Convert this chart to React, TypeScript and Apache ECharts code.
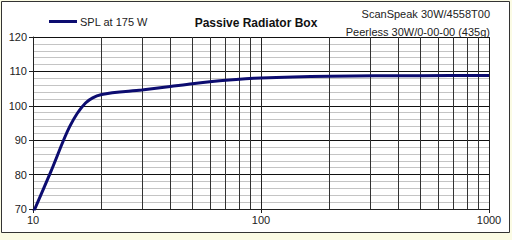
import React, { useEffect, useRef } from "react";
import * as echarts from "echarts";

const freqs = [10, 12, 14.5, 17, 20, 30, 40, 50, 70, 100, 200, 500, 1000];
const spl = [68.8, 81, 94, 100.8, 103.3, 104.6, 105.6, 106.4, 107.4, 108.1, 108.6, 108.75, 108.8];
const gridFreqs = [20, 30, 40, 50, 60, 70, 80, 90, 200, 300, 400, 500, 600, 700, 800, 900];
const seriesName = "SPL at 175 W";
const titleText = "Passive Radiator Box";
const noteLines = ["ScanSpeak 30W/4558T00", "Peerless 30W/0-00-00 (435g)"];

const FONT = "Liberation Sans";

export default function App() {
  const ref = useRef<HTMLDivElement>(null);
  useEffect(() => {
    if (!ref.current) return;
    const chart = echarts.init(ref.current, null, { renderer: "svg" });
    chart.setOption({
      animation: false,
      backgroundColor: "#fbfbe4",
      textStyle: { fontFamily: FONT },
      title: {
        text: titleText,
        left: "center",
        top: 12,
        textStyle: { fontFamily: FONT, fontSize: 12, fontWeight: "bold", color: "#111" },
      },
      legend: {
        left: 44,
        top: 11,
        itemWidth: 28,
        itemHeight: 3,
        itemGap: 4,
        icon: "rect",
        textStyle: { fontFamily: FONT, fontSize: 11, color: "#222", padding: [0, 0, 0, -2] },
        data: [seriesName],
      },
      graphic: [
        {
          type: "rect",
          z: -10,
          silent: true,
          shape: { x: 1.5, y: 1.5, width: 508, height: 231 },
          style: { fill: "#ffffff", stroke: "#333333", lineWidth: 1 },
        },
        {
          type: "text",
          right: 22,
          top: 8,
          style: { text: noteLines[0], font: `11px ${FONT}`, fill: "#222", textAlign: "right" },
        },
        {
          type: "text",
          right: 22,
          top: 26,
          style: { text: noteLines[1], font: `11px ${FONT}`, fill: "#222", textAlign: "right" },
        },
      ],
      grid: { left: 33, right: 23, top: 37, bottom: 31 },
      xAxis: {
        type: "log",
        logBase: 10,
        min: 10,
        max: 1000,
        axisLine: { show: true, lineStyle: { color: "#222" } },
        axisTick: { show: true, length: 4, lineStyle: { color: "#222" } },
        axisLabel: { fontSize: 11, color: "#222", margin: 5, fontFamily: FONT, formatter: (v: number) => String(Math.round(v)) },
        splitLine: { show: true, lineStyle: { color: "#222", width: 1 } },
      },
      yAxis: {
        type: "value",
        min: 70,
        max: 120,
        interval: 10,
        axisLine: { show: true, lineStyle: { color: "#222" } },
        axisTick: { show: true, length: 4, lineStyle: { color: "#222" } },
        axisLabel: { fontSize: 11, color: "#222", margin: 6, fontFamily: FONT },
        splitLine: { show: true, lineStyle: { color: "#111", width: 1 } },
        minorTick: { show: false, splitNumber: 5 },
        minorSplitLine: { show: true, lineStyle: { color: "#c4c4c4", width: 1 } },
      },
      series: [
        {
          name: seriesName,
          type: "line",
          data: freqs.map((f, i) => [f, spl[i]]),
          smooth: 0.3,
          showSymbol: false,
          clip: true,
          lineStyle: { color: "#0c0c70", width: 3 },
          itemStyle: { color: "#0c0c70" },
          z: 5,
          markLine: {
            silent: true,
            symbol: "none",
            label: { show: false },
            lineStyle: { color: "#333", type: "solid", width: 1 },
            data: gridFreqs.map((f) => ({ xAxis: f })),
            z: 1,
          },
        },
      ],
    });
    return () => chart.dispose();
  }, []);
  return (
    <div
      ref={ref}
      style={{ position: "fixed", left: 0, top: 0, width: 512, height: 240 }}
    />
  );
}
